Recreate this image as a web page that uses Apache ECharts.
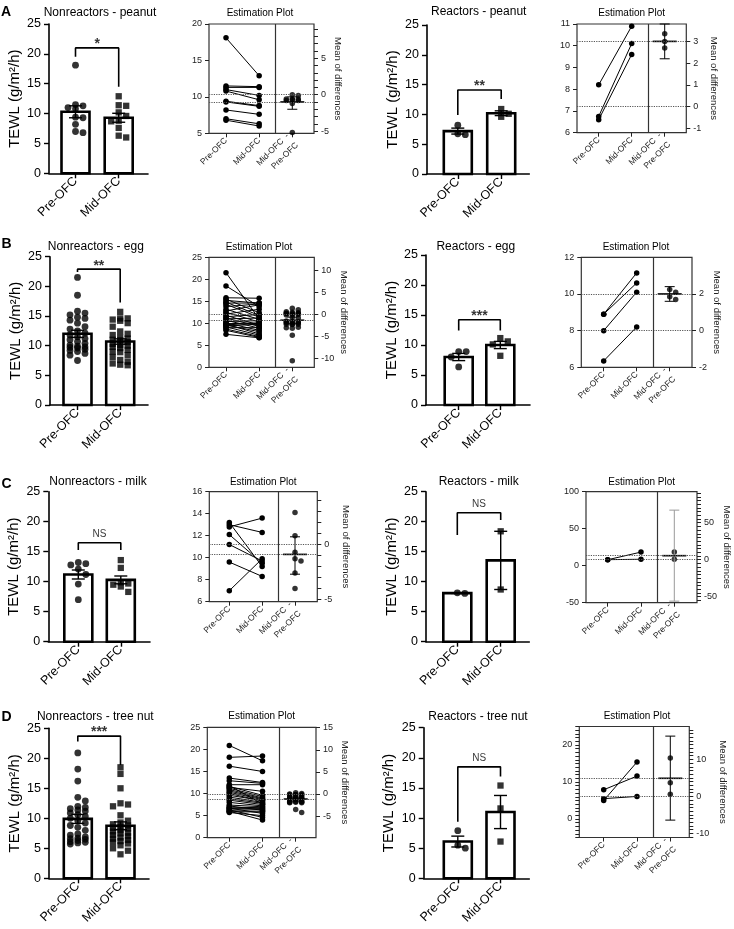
<!DOCTYPE html>
<html><head><meta charset="utf-8">
<script src="https://cdn.jsdelivr.net/npm/echarts@6/dist/echarts.min.js"></script>
<style>html,body{margin:0;padding:0;background:#fff}#c{width:734px;height:929px}</style>
</head><body><div id="c"></div>
<script>
const FONT = 'Liberation Sans, Arial, Helvetica, sans-serif';
function range(a, b, step) { const r = []; for (let v = a; v <= b + 1e-9; v += step) r.push(+v.toFixed(6)); return r; }

// ---------------- text ----------------
const barGroups = ['Pre-OFC', 'Mid-OFC'];
const estGroups = ['Pre-OFC', 'Mid-OFC', 'Mid-OFC  -\nPre-OFC'];
const panelTitles = ['Nonreactors - peanut', 'Reactors - peanut', 'Nonreactors - egg', 'Reactors - egg',
                     'Nonreactors - milk', 'Reactors - milk', 'Nonreactors - tree nut', 'Reactors - tree nut'];
const rowLetters = ['A', 'B', 'C', 'D'];
const estTitle = 'Estimation Plot';
const leftAxisName = 'TEWL (g/m\u00B2/h)';
const rightAxisName = 'Mean of differences';
const tewlTicks = [0, 5, 10, 15, 20, 25];

// ---------------- A: peanut ----------------
const nrPeanutPre  = [18.1, 11.5, 11.3, 11.0, 10.8, 9.4, 9.3, 8.2, 7.0, 6.8];
const nrPeanutMid  = [12.9, 11.4, 11.3, 10.2, 9.6, 8.8, 8.7, 7.6, 6.3, 6.0];
const nrPeanutMean = [10.3, 9.3];
const nrPeanutSem  = [1.0, 0.75];
const nrPeanutCI   = [-2.0, -0.3];
const nrPeanutBracket = [21.0, 19.5, 14.5];
const nrPeanutSig  = '*';
const nrPeanutLeftRange = [5, 20];
const nrPeanutLeftTicks = [5, 10, 15, 20];
const nrPeanutLeftLabels = [5, 10, 15, 20];
const nrPeanutRightTicks = range(-5, 9, 1);
const nrPeanutRightLabels = [-5, 0, 5];

const rPeanutPre  = [8.2, 6.75, 6.6];
const rPeanutMid  = [10.9, 10.1, 9.6];
const rPeanutMean = [7.2, 10.2];
const rPeanutSem  = [0.5, 0.4];
const rPeanutCI   = [2.2, 3.8];
const rPeanutBracket = [14.1, 9.9, 12.6];
const rPeanutSig  = '**';
const rPeanutLeftRange = [6, 11];
const rPeanutLeftTicks = [6, 7, 8, 9, 10, 11];
const rPeanutLeftLabels = [6, 7, 8, 9, 10, 11];
const rPeanutRightTicks = [-1, 0, 1, 2, 3];
const rPeanutRightLabels = [-1, 0, 1, 2, 3];

// ---------------- B: egg ----------------
const nrEggPre = [21.5, 18.5, 15.8, 15.5, 15.2, 14.8, 14.6, 14.3, 13.8, 13.2, 12.8, 12.5, 12.1, 11.8, 11.5,
                  11.2, 11.0, 10.7, 10.4, 10.1, 9.9, 9.8, 9.7, 9.6, 9.4, 9.2, 9.0, 8.7, 8.4, 7.5];
const nrEggMid = [11.0, 13.8, 15.7, 12.4, 14.6, 11.8, 14.6, 11.4, 14.4, 10.9, 14.2, 10.3, 13.2, 9.6, 12.0,
                  9.3, 11.2, 8.9, 10.6, 8.4, 10.1, 7.6, 10.0, 8.1, 9.8, 7.3, 9.0, 7.0, 6.8, 6.7];
const nrEggMean = [12.0, 10.7];
const nrEggSem  = [0.6, 0.45];
const nrEggCI   = [-2.1, -0.6];
const nrEggBracket = [22.9, 22.4, 17.3];
const nrEggSig  = '**';
const nrEggLeftRange = [0, 25];
const nrEggLeftTicks = [0, 5, 10, 15, 20, 25];
const nrEggLeftLabels = [0, 5, 10, 15, 20, 25];
const nrEggRightTicks = [-10, -5, 0, 5, 10];
const nrEggRightLabels = [-10, -5, 0, 5, 10];

const rEggPre  = [8.9, 8.9, 8.0, 6.35];
const rEggMid  = [11.15, 10.6, 10.1, 8.2];
const rEggMean = [8.0, 10.0];
const rEggSem  = [0.6, 0.6];
const rEggCI   = [1.6, 2.4];
const rEggBracket = [14.2, 12.4, 12.4];
const rEggSig  = '***';
const rEggLeftRange = [6, 12];
const rEggLeftTicks = [6, 8, 10, 12];
const rEggLeftLabels = [6, 8, 10, 12];
const rEggRightTicks = [-2, 0, 2];
const rEggRightLabels = [-2, 0, 2];

// ---------------- C: milk ----------------
const nrMilkPre  = [13.2, 13.0, 12.8, 12.1, 11.2, 9.6, 7.0];
const nrMilkMid  = [9.2, 12.3, 13.6, 9.5, 9.7, 8.3, 9.9];
const nrMilkMean = [11.2, 10.3];
const nrMilkSem  = [0.75, 0.65];
const nrMilkCI   = [-2.7, 0.7];
const nrMilkBracket = [16.5, 15.3, 15.3];
const nrMilkSig  = 'NS';
const nrMilkLeftRange = [6, 16];
const nrMilkLeftTicks = [6, 8, 10, 12, 14, 16];
const nrMilkLeftLabels = [6, 8, 10, 12, 14, 16];
const nrMilkRightTicks = range(-5, 4, 1);
const nrMilkRightLabels = [-5, 0];

const rMilkPre  = [8.05, 8.15];
const rMilkMid  = [18.4, 8.7];
const rMilkMean = [8.1, 13.55];
const rMilkSem  = [0.05, 4.85];
const rMilkCI   = [-56, 67];
const rMilkBracket = [21.5, 17.8, 20.3];
const rMilkSig  = 'NS';
const rMilkLeftRange = [-50, 100];
const rMilkLeftTicks = [-50, 0, 50, 100];
const rMilkLeftLabels = [-50, 0, 50, 100];
const rMilkRightTicks = range(-55, 90, 5);
const rMilkRightLabels = [-50, 0, 50];

// ---------------- D: tree nut ----------------
const nrNutPre = [20.9, 18.2, 16.2, 13.5, 12.9, 12.0, 11.8, 11.6, 11.4, 11.2, 10.9, 10.6, 10.3, 10.0, 9.6,
                  9.2, 8.8, 8.5, 8.0, 7.4, 7.2, 6.9, 6.7, 6.6, 6.5, 6.3, 6.1, 6.0, 5.9, 5.7];
const nrNutMid = [17.4, 18.5, 15.0, 12.5, 12.3, 12.0, 7.6, 9.6, 10.5, 9.3, 9.0, 8.8, 8.6, 8.3, 8.4,
                  8.0, 7.8, 7.5, 7.2, 7.0, 6.2, 6.8, 5.5, 6.4, 6.6, 4.6, 6.0, 4.0, 5.8, 5.0];
const nrNutMean = [9.9, 8.75];
const nrNutSem  = [0.75, 0.65];
const nrNutCI   = [-1.6, -0.7];
const nrNutBracket = [23.7, 22.8, 18.9];
const nrNutSig  = '***';
const nrNutLeftRange = [0, 25];
const nrNutLeftTicks = [0, 5, 10, 15, 20, 25];
const nrNutLeftLabels = [0, 5, 10, 15, 20, 25];
const nrNutRightTicks = [-5, 0, 5, 10, 15];
const nrNutRightLabels = [-5, 0, 5, 10, 15];

const rNutPre  = [7.9, 5.0, 5.5];
const rNutMid  = [11.6, 15.4, 6.1];
const rNutMean = [6.1, 11.0];
const rNutSem  = [0.9, 2.75];
const rNutCI   = [-6.4, 16.3];
const rNutBracket = [18.5, 9.4, 16.9];
const rNutSig  = 'NS';
const rNutLeftRange = [-5, 25];
const rNutLeftTicks = range(-5, 25, 1);
const rNutLeftLabels = [0, 10, 20];
const rNutRightTicks = range(-11, 18, 1);
const rNutRightLabels = [-10, 0, 10];

const panels = [
  {pre: nrPeanutPre, mid: nrPeanutMid, mean: nrPeanutMean, sem: nrPeanutSem, ci: nrPeanutCI, br: nrPeanutBracket, sig: nrPeanutSig, lr: nrPeanutLeftRange, lt: nrPeanutLeftTicks, ll: nrPeanutLeftLabels, rt: nrPeanutRightTicks, rl: nrPeanutRightLabels},
  {pre: rPeanutPre, mid: rPeanutMid, mean: rPeanutMean, sem: rPeanutSem, ci: rPeanutCI, br: rPeanutBracket, sig: rPeanutSig, lr: rPeanutLeftRange, lt: rPeanutLeftTicks, ll: rPeanutLeftLabels, rt: rPeanutRightTicks, rl: rPeanutRightLabels},
  {pre: nrEggPre, mid: nrEggMid, mean: nrEggMean, sem: nrEggSem, ci: nrEggCI, br: nrEggBracket, sig: nrEggSig, lr: nrEggLeftRange, lt: nrEggLeftTicks, ll: nrEggLeftLabels, rt: nrEggRightTicks, rl: nrEggRightLabels},
  {pre: rEggPre, mid: rEggMid, mean: rEggMean, sem: rEggSem, ci: rEggCI, br: rEggBracket, sig: rEggSig, lr: rEggLeftRange, lt: rEggLeftTicks, ll: rEggLeftLabels, rt: rEggRightTicks, rl: rEggRightLabels},
  {pre: nrMilkPre, mid: nrMilkMid, mean: nrMilkMean, sem: nrMilkSem, ci: nrMilkCI, br: nrMilkBracket, sig: nrMilkSig, lr: nrMilkLeftRange, lt: nrMilkLeftTicks, ll: nrMilkLeftLabels, rt: nrMilkRightTicks, rl: nrMilkRightLabels},
  {pre: rMilkPre, mid: rMilkMid, mean: rMilkMean, sem: rMilkSem, ci: rMilkCI, br: rMilkBracket, sig: rMilkSig, lr: rMilkLeftRange, lt: rMilkLeftTicks, ll: rMilkLeftLabels, rt: rMilkRightTicks, rl: rMilkRightLabels},
  {pre: nrNutPre, mid: nrNutMid, mean: nrNutMean, sem: nrNutSem, ci: nrNutCI, br: nrNutBracket, sig: nrNutSig, lr: nrNutLeftRange, lt: nrNutLeftTicks, ll: nrNutLeftLabels, rt: nrNutRightTicks, rl: nrNutRightLabels},
  {pre: rNutPre, mid: rNutMid, mean: rNutMean, sem: rNutSem, ci: rNutCI, br: rNutBracket, sig: rNutSig, lr: rNutLeftRange, lt: rNutLeftTicks, ll: rNutLeftLabels, rt: rNutRightTicks, rl: rNutRightLabels}
];

// ---------------- layout (pixels) ----------------
const layout = [
  {bar: [49, 24, 148, 173.3], c: [75.5, 118.7], est: [209, 24, 314, 133.3], ex: [226, 259, 292.3], tb: [100, 12.5], te: [260, 13.3], rGap: 19, ciColor: '#000'},
  {bar: [427, 25, 529.3, 174], c: [457.8, 501.2], est: [577, 24, 686.3, 132.7], ex: [598.7, 632, 664.7], tb: [478.7, 12], te: [631.7, 13.3], rGap: 22, ciColor: '#000'},
  {bar: [50, 256.7, 148, 405], c: [77.5, 120.2], est: [209, 257.3, 314.3, 367.3], ex: [226, 259, 292.3], tb: [95.8, 246.7], te: [259, 247], rGap: 24, ciColor: '#000'},
  {bar: [426, 255, 530, 405], c: [458.7, 500.3], est: [581.3, 257.3, 692, 367.3], ex: [603.7, 637, 669.7], tb: [475.8, 246.7], te: [636, 247], rGap: 20, ciColor: '#000'},
  {bar: [48.3, 491.7, 150, 641.7], c: [78.3, 120.8], est: [209.3, 491.7, 317.3, 601.7], ex: [229.3, 262.3, 295], tb: [98, 481.7], te: [263.3, 482.2], rGap: 23, ciColor: '#000'},
  {bar: [426, 491.7, 529.3, 641.7], c: [457.3, 500.7], est: [586, 491.7, 697, 602.7], ex: [607.7, 641.3, 674.3], tb: [478.7, 481.7], te: [641.7, 482], rGap: 25, ciColor: '#999'},
  {bar: [49, 728.3, 149, 878.3], c: [77.8, 120.5], est: [207.3, 727.3, 316, 837.7], ex: [229.3, 262.3, 295.7], tb: [95.3, 716.7], te: [261.7, 716.7], rGap: 24, ciColor: '#000'},
  {bar: [423.7, 727.7, 529.3, 878.3], c: [457.8, 500.5], est: [579.3, 726.5, 689.3, 837.5], ex: [603.7, 637, 670.3], tb: [478, 716.7], te: [637, 716.7], rGap: 28, ciColor: '#000'}
];
const letterPos = [[6, 12.5], [6.5, 244], [6.5, 484], [6.5, 717]];

// beeswarm-style horizontal spreading of points (pixel offsets)
function swarm(vals, pxPerUnit, step, minDist, maxOff) {
  const order = vals.map((v, i) => i).sort((a, b) => vals[b] - vals[a]);
  const placed = [], off = new Array(vals.length).fill(0);
  order.forEach(i => {
    const y = vals[i] * pxPerUnit;
    let best = 0, bestD = -1;
    for (let k = 0; ; k++) {
      const o = k === 0 ? 0 : (k % 2 ? 1 : -1) * Math.ceil(k / 2) * step;
      if (Math.abs(o) > maxOff) break;
      let dmin = Infinity;
      placed.forEach(p => { const d = Math.hypot(p.x - o, p.y - y); if (d < dmin) dmin = d; });
      if (dmin >= minDist) { best = o; break; }
      if (dmin > bestD) { bestD = dmin; best = o; }
    }
    placed.push({x: best, y: y}); off[i] = best;
  });
  return off;
}

const option = {animation: false, backgroundColor: '#fff', textStyle: {fontFamily: FONT},
  grid: [], xAxis: [], yAxis: [], series: [], graphic: []};

function addText(x, y, text, size, weight) {
  option.graphic.push({type: 'text', x: x, y: y, silent: true,
    style: {text: text, fontSize: size, fontWeight: weight || 'normal', fontFamily: FONT, fill: '#000',
            align: 'center', verticalAlign: 'middle', textAlign: 'center', textVerticalAlign: 'middle'}});
}

const BLK = '#000';
panels.forEach((p, i) => {
  const lay = layout[i];
  // ================= bar panel =================
  const [bl, bt, brr, bb] = lay.bar;
  const gB = option.grid.length;
  option.grid.push({left: bl, top: bt, width: brr - bl, height: bb - bt});
  const s = lay.c[1] - lay.c[0];
  const xmin = 1 - (lay.c[0] - bl) / s, xmax = 2 + (brr - lay.c[1]) / s;
  const xB = option.xAxis.length;
  option.xAxis.push({type: 'value', gridIndex: gB, min: xmin, max: xmax,
    axisLine: {show: true, onZero: false, lineStyle: {color: BLK, width: 1.6}},
    axisTick: {show: true, customValues: [1, 2], length: 5, lineStyle: {color: BLK, width: 1.4}},
    axisLabel: {show: true, customValues: [1, 2], formatter: v => barGroups[Math.round(v) - 1] || '',
                rotate: 45, fontSize: 12.5, color: BLK, margin: 6, fontFamily: FONT},
    splitLine: {show: false}});
  const yB = option.yAxis.length;
  option.yAxis.push({type: 'value', gridIndex: gB, min: 0, max: 25, interval: 5,
    axisLine: {show: true, onZero: false, lineStyle: {color: BLK, width: 1.6}},
    axisTick: {show: true, length: 5, lineStyle: {color: BLK, width: 1.4}},
    axisLabel: {fontSize: 12.5, color: BLK, margin: 8, fontFamily: FONT, customValues: tewlTicks},
    splitLine: {show: false},
    name: leftAxisName, nameLocation: 'middle', nameRotate: 90, nameGap: 27,
    nameTextStyle: {fontSize: 15, color: BLK, fontFamily: FONT}});
  const pxY = (bb - bt) / 25;
  const offPre = swarm(p.pre, pxY, 7.5, 6.5, 11);
  const offMid = swarm(p.mid, pxY, 7.5, 6.5, 11);
  // bars
  option.series.push({type: 'custom', xAxisIndex: xB, yAxisIndex: yB, clip: false,
    data: [[1, p.mean[0]], [2, p.mean[1]]], encode: {x: 0, y: 1},
    renderItem: (params, api) => {
      const x = api.value(0), m = api.value(1);
      const a = api.coord([x, 0]), b = api.coord([x, m]);
      return {type: 'rect', shape: {x: a[0] - 14, y: b[1], width: 28, height: a[1] - b[1]},
              style: {fill: '#fff', stroke: BLK, lineWidth: 2.6}};
    }});
  // points
  option.series.push({type: 'scatter', xAxisIndex: xB, yAxisIndex: yB, symbol: 'circle', symbolSize: 6.8,
    itemStyle: {color: BLK}, data: p.pre.map((v, k) => [1 + offPre[k] / s, v])});
  option.series.push({type: 'scatter', xAxisIndex: xB, yAxisIndex: yB, symbol: 'rect', symbolSize: 6.3,
    itemStyle: {color: BLK}, data: p.mid.map((v, k) => [2 + offMid[k] / s, v])});
  // error bars (mean ± SEM)
  option.series.push({type: 'custom', xAxisIndex: xB, yAxisIndex: yB, clip: false,
    data: [[1, p.mean[0], p.sem[0]], [2, p.mean[1], p.sem[1]]], encode: {x: 0, y: 1},
    renderItem: (params, api) => {
      const x = api.value(0), m = api.value(1), e = api.value(2);
      const hi = api.coord([x, m + e]), lo = api.coord([x, m - e]);
      const st = {stroke: BLK, lineWidth: 1.4};
      return {type: 'group', children: [
        {type: 'line', shape: {x1: hi[0], y1: hi[1], x2: lo[0], y2: lo[1]}, style: st},
        {type: 'line', shape: {x1: hi[0] - 6.5, y1: hi[1], x2: hi[0] + 6.5, y2: hi[1]}, style: st},
        {type: 'line', shape: {x1: lo[0] - 6.5, y1: lo[1], x2: lo[0] + 6.5, y2: lo[1]}, style: st}]};
    }});
  // significance bracket
  option.series.push({type: 'line', xAxisIndex: xB, yAxisIndex: yB, symbol: 'none',
    lineStyle: {color: BLK, width: 1.6},
    data: [[1, p.br[1]], [1, p.br[0]], [2, p.br[0]], [2, p.br[2]]]});
  const isNS = p.sig === 'NS';
  option.series.push({type: 'scatter', xAxisIndex: xB, yAxisIndex: yB, symbolSize: 1,
    itemStyle: {color: 'rgba(0,0,0,0)'}, data: [[1.5, p.br[0]]],
    label: {show: true, position: 'top', distance: isNS ? 3 : -4, formatter: p.sig,
            fontSize: isNS ? 10 : 14, fontWeight: isNS ? 'normal' : 'bold', color: BLK, fontFamily: FONT}});

  // ================= estimation panel =================
  const [el, et, er, eb] = lay.est;
  const gE = option.grid.length;
  option.grid.push({left: el, top: et, width: er - el, height: eb - et, show: true,
    borderColor: '#333', borderWidth: 1.2, backgroundColor: 'rgba(0,0,0,0)'});
  const es = (lay.ex[2] - lay.ex[0]) / 2;
  const exmin = 1 - (lay.ex[0] - el) / es, exmax = 3 + (er - lay.ex[2]) / es;
  const xE = option.xAxis.length;
  option.xAxis.push({type: 'value', gridIndex: gE, min: exmin, max: exmax, position: 'bottom',
    axisLine: {show: false, onZero: false},
    axisTick: {show: true, customValues: [1, 2, 3], length: 4, lineStyle: {color: '#222', width: 1}},
    axisLabel: {show: true, customValues: [1, 2, 3], formatter: v => estGroups[Math.round(v) - 1] || '',
                rotate: 45, fontSize: 8.5, color: '#222', margin: 6, fontFamily: FONT, lineHeight: 13},
    splitLine: {show: false}});
  const preMean = p.mean[0];
  const yL = option.yAxis.length;
  option.yAxis.push({type: 'value', gridIndex: gE, position: 'left', min: p.lr[0], max: p.lr[1],
    axisLine: {show: false, onZero: false},
    axisTick: {show: true, customValues: p.lt, length: 4, lineStyle: {color: '#222', width: 1}},
    axisLabel: {customValues: p.ll, fontSize: 9, color: '#222', margin: 7, fontFamily: FONT},
    splitLine: {show: false}});
  const yR = option.yAxis.length;
  option.yAxis.push({type: 'value', gridIndex: gE, position: 'right',
    min: p.lr[0] - preMean, max: p.lr[1] - preMean,
    axisLine: {show: false, onZero: false},
    axisTick: {show: true, customValues: p.rt, length: 4, lineStyle: {color: '#222', width: 1}},
    axisLabel: {customValues: p.rl, fontSize: 9, color: '#222', margin: 7, fontFamily: FONT},
    splitLine: {show: false},
    name: rightAxisName, nameLocation: 'middle', nameRotate: -90, nameGap: lay.rGap,
    nameTextStyle: {fontSize: 9.5, color: '#222', fontFamily: FONT}});
  // paired lines
  p.pre.forEach((v, k) => {
    const ser = {type: 'line', xAxisIndex: xE, yAxisIndex: yL, symbol: 'circle', symbolSize: 5.5,
      itemStyle: {color: BLK}, lineStyle: {color: BLK, width: 1}, z: 3,
      data: [[1, v], [2, p.mid[k]]]};
    if (k === 0) {
      ser.markLine = {silent: true, symbol: ['none', 'none'], label: {show: false}, animation: false,
        data: [
          {yAxis: p.mean[0], lineStyle: {type: 'dotted', color: '#555', width: 1.2}},
          {yAxis: p.mean[1], lineStyle: {type: 'dotted', color: '#555', width: 1.2}},
          {xAxis: 2.5, lineStyle: {type: 'solid', color: '#333', width: 1.2}}
        ]};
    }
    option.series.push(ser);
  });
  // differences
  const diffs = p.pre.map((v, k) => p.mid[k] - v);
  const pxYR = (eb - et) / (p.lr[1] - p.lr[0]);
  const offD = swarm(diffs, pxYR, 6, 5.5, 11);
  option.series.push({type: 'scatter', xAxisIndex: xE, yAxisIndex: yR, symbol: 'circle', symbolSize: 5.5,
    itemStyle: {color: BLK}, z: 3, data: diffs.map((d, k) => [3 + offD[k] / es, d])});
  const ciColor = lay.ciColor;
  option.series.push({type: 'custom', xAxisIndex: xE, yAxisIndex: yR, clip: false, z: 4,
    data: [[3, p.mean[1] - p.mean[0], p.ci[0], p.ci[1]]], encode: {x: 0, y: 1},
    renderItem: (params, api) => {
      const x = api.value(0), m = api.value(1), lo = api.value(2), hi = api.value(3);
      const pm = api.coord([x, m]), pl = api.coord([x, lo]), ph = api.coord([x, hi]);
      const st = {stroke: ciColor, lineWidth: 1};
      return {type: 'group', children: [
        {type: 'line', shape: {x1: ph[0], y1: ph[1], x2: pl[0], y2: pl[1]}, style: st},
        {type: 'line', shape: {x1: ph[0] - 5, y1: ph[1], x2: ph[0] + 5, y2: ph[1]}, style: st},
        {type: 'line', shape: {x1: pl[0] - 5, y1: pl[1], x2: pl[0] + 5, y2: pl[1]}, style: st},
        {type: 'line', shape: {x1: pm[0] - 12, y1: pm[1], x2: pm[0] + 12, y2: pm[1]}, style: {stroke: BLK, lineWidth: 1.6}}]};
    }});

  // titles
  addText(lay.tb[0], lay.tb[1], panelTitles[i], 12, 'normal');
  addText(lay.te[0], lay.te[1], estTitle, 10, 'normal');
});
rowLetters.forEach((t, r) => addText(letterPos[r][0], letterPos[r][1], t, 14, 'bold'));

const chart = echarts.init(document.getElementById('c'), null, {renderer: 'canvas', width: 734, height: 929});
chart.setOption(option);
</script>
</body></html>
